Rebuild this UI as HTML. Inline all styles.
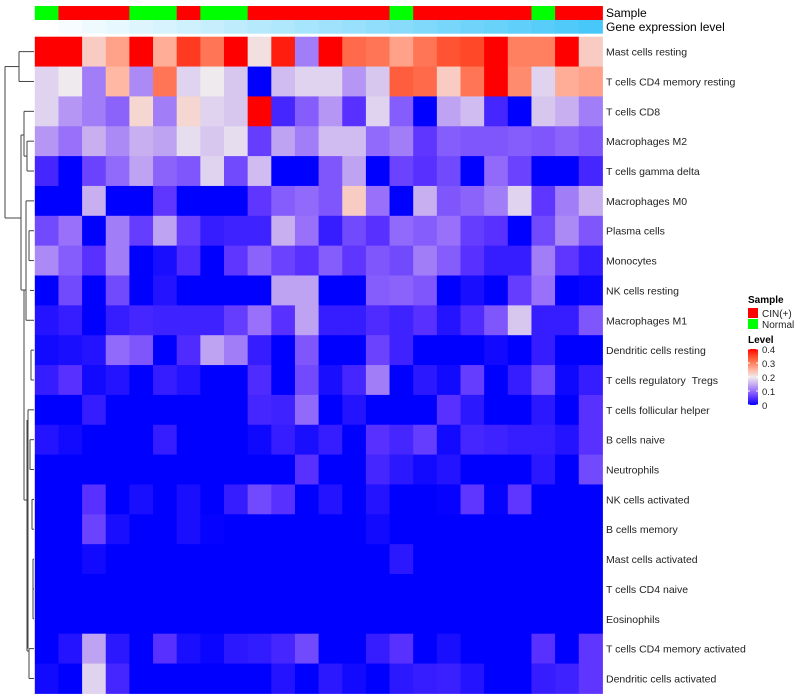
<!DOCTYPE html>
<html><head><meta charset="utf-8"><style>
body{margin:0;background:#fff;}
svg{display:block;font-family:"Liberation Sans",Arial,sans-serif;}
</style></head><body>
<svg id="chart" width="800" height="700" viewBox="0 0 800 700" xmlns="http://www.w3.org/2000/svg"></svg>
<script>
const rowLabels=["Mast cells resting","T cells CD4 memory resting","T cells CD8","Macrophages M2","T cells gamma delta","Macrophages M0","Plasma cells","Monocytes","NK cells resting","Macrophages M1","Dendritic cells resting","T cells regulatory \u00a0Tregs","T cells follicular helper","B cells naive","Neutrophils","NK cells activated","B cells memory","Mast cells activated","T cells CD4 naive","Eosinophils","T cells CD4 memory activated","Dendritic cells activated"];
const sampleGroups=["Normal","CIN(+)","CIN(+)","CIN(+)","Normal","Normal","CIN(+)","Normal","Normal","CIN(+)","CIN(+)","CIN(+)","CIN(+)","CIN(+)","CIN(+)","Normal","CIN(+)","CIN(+)","CIN(+)","CIN(+)","CIN(+)","Normal","CIN(+)","CIN(+)"];
const expressionLevel=[0,1,2,3,4,5,6,7,8,9,10,11,12,13,14,15,16,17,18,19,20,21,22,23];
const r1=[.42,.42,.23,.27,.42,.26,.36,.31,.42,.21,.38,.11,.42,.32,.31,.27,.31,.34,.35,.42,.3,.3,.4,.23];
const r2=[.18,.2,.11,.25,.12,.31,.18,.2,.17,0,.16,.18,.18,.13,.17,.33,.32,.23,.31,.4,.29,.18,.26,.27];
const r3=[.18,.13,.11,.09,.22,.11,.22,.18,.17,.42,.04,.085,.13,.05,.18,.085,0,.14,.16,.04,0,.17,.15,.11];
const r4=[.13,.1,.15,.12,.15,.14,.19,.17,.19,.06,.14,.11,.16,.16,.095,.11,.055,.085,.08,.08,.085,.08,.09,.08];
const r5=[.04,0,.065,.095,.14,.09,.08,.18,.07,.16,0,0,.08,.14,0,.065,.05,.07,0,.095,.065,0,0,.04];
const r6=[0,0,.15,0,0,.055,0,0,0,.055,.085,.095,.08,.23,.1,0,.15,.08,.09,.11,.18,.055,.11,.15];
const r7=[.07,.1,0,.11,.06,.14,.06,.03,.035,.035,.15,.1,.03,.07,.05,.095,.085,.1,.06,.05,0,.07,.12,.08];
const r8=[.12,.085,.05,.11,0,.015,.045,0,.055,.09,.065,.05,.085,.055,.08,.07,.11,.085,.05,.03,.03,.11,.055,.03];
const r9=[0,.07,0,.07,0,.02,0,0,0,0,.14,.14,0,0,.085,.09,.08,0,.015,0,.06,.1,0,.005];
const r10=[.02,.03,0,.03,.04,.035,.035,.035,.06,.1,.05,.14,.03,.03,.045,.035,.05,.02,.045,.08,.17,.03,.03,.08];
const r11=[.01,.015,.02,.095,.08,0,.045,.14,.11,.03,0,.08,0,0,.065,.035,0,0,0,.01,0,.03,0,0];
const r12=[.03,.05,.01,.02,0,.03,.02,0,0,.045,0,.07,.015,.04,.11,0,.025,.01,.06,0,.03,.07,.008,.03];
const r13=[0,0,.03,0,0,0,0,0,0,.04,.035,.095,0,.02,0,0,0,.05,.025,0,0,.025,0,.05];
const r14=[.02,.01,0,0,0,.03,0,0,0,.008,.03,.015,.03,0,.05,.04,.06,.01,.04,.035,.03,.03,.02,.05];
const r15=[0,0,0,0,0,0,0,0,0,0,0,.05,0,0,.04,.025,.01,.02,0,0,0,.025,0,.07];
const r16=[0,0,.05,0,.015,0,.015,0,.03,.07,.05,0,.02,0,.02,0,0,.003,.055,.003,.055,0,0,0];
const r17=[0,0,.065,.015,0,0,.015,.003,0,0,0,0,0,0,.01,0,0,0,0,0,0,0,0,0];
const r18=[0,0,.01,0,0,0,0,0,0,0,0,0,0,0,0,.025,0,0,0,0,0,0,0,0];
const r19=[0,0,0,0,0,0,0,0,0,0,0,0,0,0,0,0,0,0,0,0,0,0,0,0];
const r20=[0,0,0,0,0,0,0,0,0,0,0,0,0,0,0,0,0,0,0,0,0,0,0,0];
const r21=[0,.02,.14,.025,0,.05,.015,.005,.025,.028,.04,.07,0,0,.03,.05,0,.015,0,0,0,.05,0,.055];
const r22=[.01,0,.18,.04,0,0,0,0,0,0,.02,0,.025,.01,0,.025,.03,.033,.02,0,0,.03,.035,.055];
const values=[r1,r2,r3,r4,r5,r6,r7,r8,r9,r10,r11,r12,r13,r14,r15,r16,r17,r18,r19,r20,r21,r22];
const legendTicks=[0,0.1,0.2,0.3,0.4];

const NS="http://www.w3.org/2000/svg";
const svg=document.getElementById('chart');
function mk(tag,attrs,parent){const e=document.createElementNS(NS,tag);for(const k in attrs)e.setAttribute(k,attrs[k]);(parent||svg).appendChild(e);return e;}
const X0=34.8,CW=23.65,Y0=36.7,RH=29.85;
const nCols=sampleGroups.length;
function xPos(i){return X0+i*CW;}
function yPos(j){return Y0+j*RH;}
const stops=[[0,[0,0,255]],[.05,[88,48,255]],[.1,[152,112,250]],[.15,[200,176,240]],[.2,[238,234,238]],[.25,[255,184,164]],[.3,[255,128,96]],[.35,[255,72,40]],[.4,[255,0,0]]];
function color(v){v=Math.max(0,Math.min(.4,v));for(let i=1;i<stops.length;i++){if(v<=stops[i][0]){const a=stops[i-1],b=stops[i];const t=(v-a[0])/(b[0]-a[0]);const c=a[1].map((x,k)=>Math.round(x+(b[1][k]-x)*t));return `rgb(${c[0]},${c[1]},${c[2]})`;}}return 'rgb(255,0,0)';}
function blueLevel(i){const t=i/(nCols-1);const a=[255,255,255],b=[72,200,248];const c=a.map((x,k)=>Math.round(x+(b[k]-x)*t));return `rgb(${c[0]},${c[1]},${c[2]})`;}

const gS=mk('g',{});


sampleGroups.forEach((s,i)=>{
  const r=mk('rect',{x:xPos(i),y:6,width:CW+0.5,height:14,fill:s==="Normal"?"#00ff00":"#ff0000"},gS);
  
  
});
const gG=mk('g',{});


expressionLevel.forEach((v,i)=>{
  const r=mk('rect',{x:xPos(i),y:20,width:CW+0.5,height:13.7,fill:blueLevel(v)},gG);
  
  
});
let t=mk('text',{x:606,y:17,'font-size':12,fill:'#000'});t.textContent='Sample';


t=mk('text',{x:606,y:31,'font-size':12,fill:'#000'});t.textContent='Gene expression level';



const gH=mk('g',{});


values.forEach((row,j)=>{
  row.forEach((v,i)=>{
    const r=mk('rect',{x:xPos(i),y:yPos(j),width:CW+0.5,height:RH+0.5,fill:color(v)},gH);
    
    
  });
  const l=mk('text',{x:606,y:yPos(j)+RH/2+4,'font-size':10.5,fill:'#222'});
  l.textContent=rowLabels[j];
  
  
});

const gD=mk('g',{stroke:'#444','stroke-width':1,fill:'none'});


function cy(j){return yPos(j)+RH/2;}
const segs=[
 [19,cy(0),34,cy(0)],[19,cy(1),34,cy(1)],[19,cy(0),19,cy(1)],
 [5,(cy(0)+cy(1))/2,19,(cy(0)+cy(1))/2],
 [5,(cy(0)+cy(1))/2,5,218],
 [5,218,21,218],
 [24,cy(2),34,cy(2)],[27,cy(3),34,cy(3)],[27,cy(4),34,cy(4)],[27,cy(3),27,cy(4)],
 [24,cy(2),24,(cy(3)+cy(4))/2],[24,(cy(3)+cy(4))/2,27,(cy(3)+cy(4))/2],
 [21,135,24,135],[21,135,21,290],
 [26,cy(5),34,cy(5)],[29,cy(6),34,cy(6)],[29,cy(7),34,cy(7)],[29,cy(6),29,cy(7)],
 [26,cy(5),26,cy(9)],[26,cy(9),34,cy(9)],[30,cy(8),34,cy(8)],
 [21,290,26,290],[24,290,24,500],[24,500,28,500],
 [31,cy(10),34,cy(10)],[31,cy(11),34,cy(11)],[31,cy(10),31,cy(11)],
 [28,cy(12),34,cy(12)],[28,cy(12),28,cy(20)],
 [30,cy(13),34,cy(13)],[30,cy(14),34,cy(14)],[30,cy(13),30,cy(14)],
 [32,cy(15),34,cy(15)],[32,cy(16),34,cy(16)],[32,cy(15),32,cy(16)],
 [33,cy(17),34,cy(17)],[33,cy(18),34,cy(18)],[33,cy(19),34,cy(19)],[33,cy(17),33,cy(19)],
 [29,cy(20),34,cy(20)],[29,cy(21),34,cy(21)],[29,cy(20),29,cy(21)],
 [27,420,27,651],[27,651,29,651]
];
segs.forEach(s=>{mk('line',{x1:s[0],y1:s[1],x2:s[2],y2:s[3]},gD);});

const gL=mk('g',{});


t=mk('text',{x:748,y:303,'font-size':10,'font-weight':'bold'},gL);t.textContent='Sample';


[["CIN(+)","#ff0000"],["Normal","#00ff00"]].forEach((e,k)=>{
  const r=mk('rect',{x:748,y:308+k*11,width:10,height:10,fill:e[1]},gL);
  
  
  const tx=mk('text',{x:762,y:317+k*11,'font-size':10,fill:'#222'},gL);tx.textContent=e[0];
  
  
});
t=mk('text',{x:748,y:343,'font-size':10,'font-weight':'bold'},gL);t.textContent='Level';


const defs=mk('defs',{});
const lg=mk('linearGradient',{id:'lvl',x1:0,y1:1,x2:0,y2:0},defs);
for(let k=0;k<=8;k++){mk('stop',{offset:k/8,'stop-color':color(k*0.05)},lg);}
const cb=mk('rect',{x:748,y:349,width:10,height:56,fill:'url(#lvl)'},gL);


legendTicks.forEach(v=>{
  const yy=405-v/0.4*56;
  mk('line',{x1:748,x2:750,y1:yy,y2:yy,stroke:'#fff'},gL);
  mk('line',{x1:756,x2:758,y1:yy,y2:yy,stroke:'#fff'},gL);
  const tx=mk('text',{x:762,y:yy+4,'font-size':9.5,fill:'#222'},gL);tx.textContent=String(v);
  
  
});
</script>
</body></html>
